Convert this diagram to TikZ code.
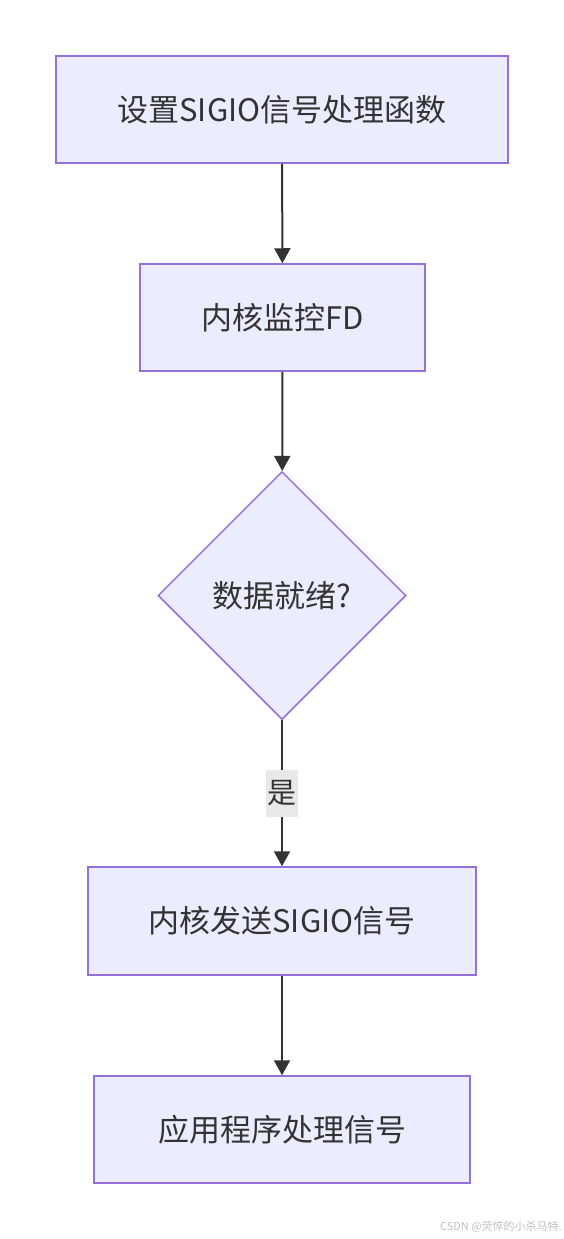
\documentclass[tikz,border=0pt]{standalone}
\usepackage{fontspec}
\setmainfont{Noto Sans CJK SC}
\usetikzlibrary{shapes.geometric,arrows.meta}
\definecolor{boxfill}{HTML}{ECECFF}
\definecolor{boxline}{HTML}{9370DB}
\definecolor{ink}{HTML}{333333}
\definecolor{tagfill}{HTML}{E8E8E8}
\begin{document}
\begin{tikzpicture}[x=1pt,y=-1pt,
  stepbox/.style={draw=boxline,fill=boxfill,line width=1.5pt,text=ink,
    font=\fontsize{31}{37}\selectfont,inner sep=0pt},
  choice/.style={diamond,aspect=1,draw=boxline,fill=boxfill,line width=1.5pt,
    text=ink,font=\fontsize{31}{37}\selectfont,inner sep=0pt,minimum size=248pt},
  flow/.style={draw=ink,line width=2pt,-{Triangle[length=15pt,width=16pt]}}]
  \useasboundingbox (0,0) rectangle (564,1239);

  % Boxes
  \node[stepbox,minimum width=452pt,minimum height=107pt] (setup) at (282,109.5) {设置SIGIO信号处理函数};
  \node[stepbox,minimum width=285pt,minimum height=107pt] (watch) at (282.5,317.5) {内核监控FD};
  \node[choice] (ready) at (282,595.5) {数据就绪?};
  \node[stepbox,minimum width=388pt,minimum height=108pt] (send) at (282,921) {内核发送SIGIO信号};
  \node[stepbox,minimum width=376pt,minimum height=107pt] (handle) at (282,1129.5) {应用程序处理信号};

  % Arrows
  \draw[flow] (setup) -- (watch);
  \draw[flow] (watch) -- (ready);
  \draw[flow] (ready) -- node[fill=tagfill,text=ink,font=\fontsize{29}{33}\selectfont,
    inner sep=1pt,minimum width=32pt,minimum height=47pt] (yes) {是} (send);
  \draw[flow] (send) -- (handle);

  % Watermark
  \node[text=black!25,font=\fontsize{11}{13}\selectfont,anchor=east,inner sep=0pt] (mark) at (562,1227) {CSDN @荧悴的小杀马特.};
\end{tikzpicture}
\end{document}
